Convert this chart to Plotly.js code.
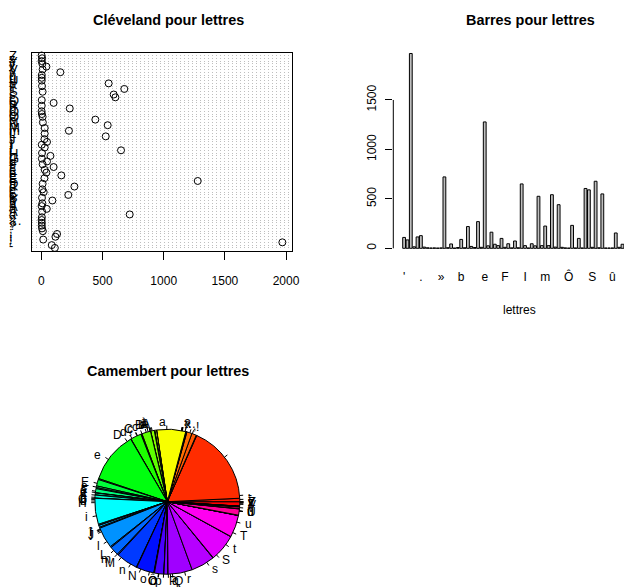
<!DOCTYPE html>
<html>
<head>
<meta charset="utf-8">
<script src="https://cdn.plot.ly/plotly-3.0.1.min.js"></script>
<style>html,body{margin:0;padding:0;background:#fff}</style>
</head>
<body>
<div id="chart" style="width:624px;height:587px"></div>
<script>
// Fréquences des caractères d'un texte, dans l'ordre de tri des noms
const lettres = ["'", "-", " ", "!", ",", ".", ":", ";", "?", "«", "…", "»",
  "a", "A", "à", "À", "â", "b", "B", "c", "C", "ç", "d", "D",
  "e", "E", "é", "è", "ê", "f", "F", "g", "G", "h", "H",
  "i", "I", "î", "j", "J", "l", "L", "m", "M", "n", "N",
  "o", "O", "ô", "Ô", "p", "P", "q", "Q", "r", "s", "S", "t", "T",
  "u", "U", "ù", "û", "v", "V", "x", "y", "Y", "z", "Z"];

const effectifs = [110, 85, 1970, 15, 115, 128, 12, 5, 3, 4, 2, 4,
  722, 6, 44, 2, 8, 90, 5, 220, 19, 8, 270, 10,
  1278, 25, 163, 41, 27, 100, 10, 46, 4, 74, 5,
  651, 27, 3, 46, 25, 526, 27, 225, 27, 542, 12,
  441, 10, 4, 2, 232, 3, 100, 3, 605, 591, 10, 678, 5,
  550, 3, 3, 3, 155, 10, 41, 8, 2, 6, 2];

// graduations et étiquettes affichées
const ticksCleveland = [0, 500, 1000, 1500, 2000];
const ticksBarres = [0, 500, 1000, 1500];
const etiquettesBarres = ["'", ".", "»", "b", "e", "F", "I", "m", "Ô", "S", "û"];

const W = 624, H = 587;
const px = x => x / W;
const py = y => 1 - y / H;
const FONT = "Liberation Sans, Arial, Helvetica, sans-serif";
const n = lettres.length;

// palette arc-en-ciel (teintes régulières de 0 à (n-1)/n)
function hsv2rgb(h) {
  const i = Math.floor(h * 6), f = h * 6 - i;
  const q = 1 - f, t = f;
  const m = [[1, t, 0], [q, 1, 0], [0, 1, t], [0, q, 1], [t, 0, 1], [1, 0, q]][i % 6];
  return 'rgb(' + m.map(v => Math.round(v * 255)).join(',') + ')';
}
const arcenciel = lettres.map((_, i) => hsv2rgb(i / n));

const annotations = [];
const shapes = [];

// ---- diagramme de Cleveland ----
const vmin = Math.min(...effectifs), vmax = Math.max(...effectifs);
const ext = 0.04 * (vmax - vmin);

lettres.forEach((l, i) => {
  annotations.push({xref: 'paper', yref: 'y', x: px(8), y: i, text: l, showarrow: false,
    xanchor: 'left', yanchor: 'middle', borderpad: 0,
    font: {family: FONT, size: 13, color: '#000'}});
});

// ---- diagramme en barres ----
const ylimB = [-0.04 * vmax, 1.04 * vmax];
// positions en unités de barres (largeur 1, espace 0,2) converties en rangs
const uLeft = 0.2 - 0.04 * (1.2 * n - 0.2);
const xLeftB = (uLeft - 0.7) / 1.2;
const pasBarre = 3.36;               // pixels entre deux barres
const gaucheB = 393.3;
const xRightB = xLeftB + (W - gaucheB) / pasBarre;

shapes.push({type: 'line', xref: 'x2 domain', yref: 'y2', x0: 0, x1: 0,
  y0: ticksBarres[0], y1: ticksBarres[ticksBarres.length - 1], line: {color: '#000', width: 1}});

// ---- camembert ----
const cx = 167.3, cy = 501.7, r = 72.5;
const total = effectifs.reduce((a, b) => a + b, 0);
let cum = 0;
effectifs.forEach((v, i) => {
  const mid = 2 * Math.PI * (cum + v / 2) / total;
  cum += v;
  const c = Math.cos(mid), s = Math.sin(mid);
  shapes.push({type: 'line', xref: 'paper', yref: 'paper',
    x0: px(cx + r * c), y0: py(cy - r * s), x1: px(cx + 1.05 * r * c), y1: py(cy - 1.05 * r * s),
    line: {color: '#000', width: 1}});
  annotations.push({xref: 'paper', yref: 'paper', x: px(cx + 1.1 * r * c), y: py(cy - 1.1 * r * s),
    text: lettres[i], showarrow: false, xanchor: c < 0 ? 'right' : 'left', yanchor: 'middle',
    borderpad: 0, font: {family: FONT, size: 12, color: '#000'}});
});

// titres
const titre = (t, x, y) => ({xref: 'paper', yref: 'paper', x: px(x), y: py(y), text: t,
  showarrow: false, xanchor: 'center', yanchor: 'middle',
  font: {family: FONT, size: 14.4, color: '#000', weight: 'bold'}});
annotations.push(titre('Cléveland pour lettres', 168, 20));
annotations.push(titre('Barres pour lettres', 530, 20));
annotations.push(titre('Camembert pour lettres', 168, 371));
annotations.push({xref: 'paper', yref: 'paper', x: px(519.6), y: py(310), text: 'lettres',
  showarrow: false, xanchor: 'center', yanchor: 'middle', font: {family: FONT, size: 12, color: '#000'}});

const traces = [
  {type: 'scatter', mode: 'markers', x: effectifs, y: lettres, xaxis: 'x', yaxis: 'y',
   marker: {symbol: 'circle-open', size: 7, color: '#000', line: {width: 1, color: '#000'}},
   hoverinfo: 'skip', showlegend: false, cliponaxis: false},
  {type: 'bar', x: lettres, y: effectifs, xaxis: 'x2', yaxis: 'y2',
   marker: {color: '#bebebe', line: {color: '#000', width: 1}},
   hoverinfo: 'skip', showlegend: false},
  {type: 'pie', values: effectifs, labels: lettres, sort: false, direction: 'counterclockwise',
   rotation: 90, textinfo: 'none', hoverinfo: 'skip', showlegend: false,
   marker: {colors: arcenciel, line: {color: '#000', width: 1}},
   domain: {x: [px(cx - r), px(cx + r)], y: [py(cy + r), py(cy - r)]}}
];

const tickfont = {family: FONT, size: 12, color: '#000'};
const layout = {
  width: W, height: H,
  margin: {l: 0, r: 0, t: 0, b: 0},
  paper_bgcolor: '#fff', plot_bgcolor: 'rgba(0,0,0,0)',
  showlegend: false,
  bargap: 0.2 / 1.2,
  xaxis: {domain: [px(32), px(292)], range: [vmin - ext, vmax + ext], anchor: 'y',
    tickmode: 'array', tickvals: ticksCleveland, ticks: 'outside', ticklen: 8, tickcolor: '#000',
    tickfont: tickfont, ticklabelstandoff: 11,
    showline: true, mirror: true, linecolor: '#000', linewidth: 1, showgrid: false, zeroline: false},
  yaxis: {domain: [py(250.7), py(52.7)], type: 'category', categoryorder: 'array', categoryarray: lettres,
    range: [-1, n], anchor: 'x', tickmode: 'array', tickvals: lettres, showticklabels: false, ticks: '',
    showgrid: true, gridcolor: '#bebebe', griddash: '1px,3px', gridwidth: 1,
    showline: true, mirror: true, linecolor: '#000', linewidth: 1, zeroline: false},
  xaxis2: {domain: [px(gaucheB), 1], type: 'category', categoryorder: 'array', categoryarray: lettres,
    range: [xLeftB, xRightB], anchor: 'y2', tickmode: 'array', tickvals: etiquettesBarres,
    ticktext: etiquettesBarres, ticks: '', tickfont: tickfont, ticklabelstandoff: 12,
    showline: false, showgrid: false, zeroline: false},
  yaxis2: {domain: [py(256.1), py(45.7)], range: ylimB, anchor: 'x2',
    tickmode: 'array', tickvals: ticksBarres, ticks: 'outside', ticklen: 7, tickcolor: '#000',
    tickangle: -90, tickfont: tickfont, ticklabelstandoff: 5,
    showline: false, showgrid: false, zeroline: false},
  annotations: annotations,
  shapes: shapes
};

Plotly.newPlot('chart', traces, layout, {staticPlot: true, displayModeBar: false});
</script>
</body>
</html>
